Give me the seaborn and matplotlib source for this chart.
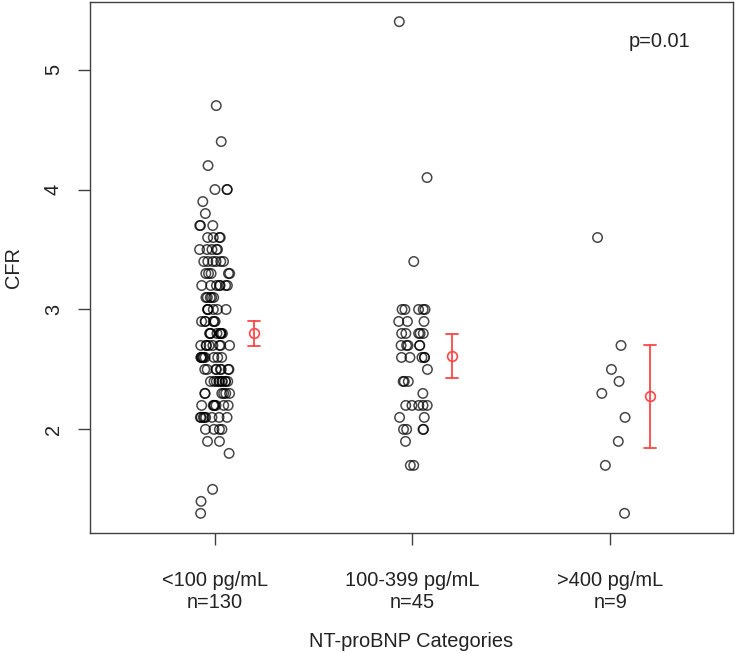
import numpy as np
import pandas as pd
import matplotlib
matplotlib.use("Agg")
import matplotlib.pyplot as plt
import matplotlib.transforms as mtransforms
import seaborn as sns

# ---------- data ----------
categories = ["<100 pg/mL\nn=130", "100-399 pg/mL\nn=45", ">400 pg/mL\nn=9"]

# CFR levels in each column and how many circles sit on each level
g1_levels = [4.7, 4.4, 4.2, 4.0, 3.9, 3.8, 3.7, 3.6, 3.5, 3.4, 3.3, 3.2, 3.1, 3.0,
             2.9, 2.8, 2.7, 2.6, 2.5, 2.4, 2.3, 2.2, 2.1, 2.0, 1.9, 1.8, 1.5, 1.4, 1.3]
g1_counts = [1, 1, 1, 3, 1, 1, 3, 4, 5, 6, 5, 7, 5, 6,
             6, 9, 8, 9, 8, 10, 6, 7, 8, 4, 2, 1, 1, 1, 1]

g2_levels = [5.4, 4.1, 3.4, 3.0, 2.9, 2.8, 2.7, 2.6, 2.5, 2.4, 2.3, 2.2, 2.1, 2.0, 1.9, 1.7]
g2_counts = [1, 1, 1, 5, 3, 5, 5, 5, 1, 3, 1, 5, 2, 4, 1, 2]

g3_values = [3.6, 2.7, 2.5, 2.4, 2.3, 2.1, 1.9, 1.7, 1.3]

p_text = "p=0.01"

g1 = np.repeat(g1_levels, g1_counts)
g2 = np.repeat(g2_levels, g2_counts)
g3 = np.array(g3_values)

df = pd.DataFrame({
    "group": [categories[0]] * len(g1) + [categories[1]] * len(g2) + [categories[2]] * len(g3),
    "CFR": np.concatenate([g1, g2, g3]),
})

# ---------- style ----------
sns.set_style("white")
plt.rcParams["font.family"] = ["Liberation Sans", "DejaVu Sans"]
red = "#ff4646"
grey = "#404040"

fig = plt.figure(figsize=(7.35, 6.53), dpi=100)
ax = fig.add_axes([90 / 735, 120 / 653, 643 / 735, 531 / 653])

np.random.seed(3)
sns.stripplot(data=df, x="group", y="CFR", order=categories, jitter=0.08,
              size=6.8, linewidth=1.1, ax=ax)
for coll in ax.collections:
    coll.set_facecolor("none")
    coll.set_edgecolor((0, 0, 0, 0.72))

# mean +/- 1.96 SE, shifted to the right of each column
n_lines = len(ax.lines)
n_colls = len(ax.collections)
sns.pointplot(data=df, x="group", y="CFR", order=categories, errorbar=("se", 1.96),
              color=red, markers="o", linestyle="none", capsize=0.06,
              markersize=7, markeredgewidth=1.2,
              err_kws={"linewidth": 1.3}, ax=ax)
shift = mtransforms.Affine2D().translate(0.2, 0) + ax.transData
for ln in ax.lines[n_lines:]:
    ln.set_transform(shift)
    ln.set_markerfacecolor("none")
for coll in ax.collections[n_colls:]:
    coll.set_transform(shift)

ax.set_xlim(-0.63, 2.62)
ax.set_ylim(1.136, 5.564)
ax.set_yticks([2, 3, 4, 5])
ax.set_yticklabels(["2", "3", "4", "5"], rotation=90, va="center")

for side in ["left", "right", "top", "bottom"]:
    ax.spines[side].set_visible(True)
    ax.spines[side].set_color(grey)
    ax.spines[side].set_linewidth(1.0)

ax.tick_params(axis="both", direction="out", length=8.5, width=1.0, color=grey,
               labelsize=14.4, labelcolor="#222222", left=True, bottom=True)
ax.tick_params(axis="y", pad=11)
ax.tick_params(axis="x", pad=19)

ax.set_xlabel("NT-proBNP Categories", fontsize=14.4, color="#222222", labelpad=14)
ax.set_ylabel("CFR", fontsize=14.4, color="#222222", labelpad=15)

ax.text(0.886, 0.925, p_text, transform=ax.transAxes, fontsize=14.4,
        color="#222222", ha="center", va="center")

fig.savefig("out.png", dpi=100)
